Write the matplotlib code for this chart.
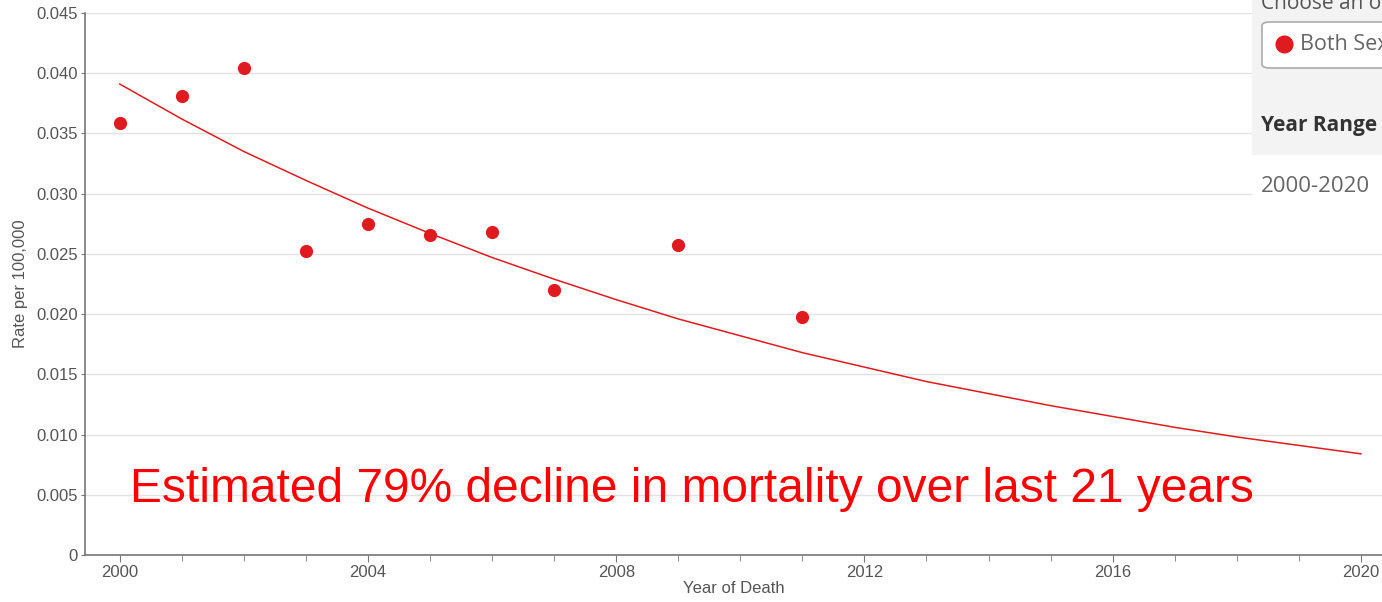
import matplotlib
matplotlib.use("Agg")
import matplotlib.pyplot as plt
from matplotlib.patches import Rectangle, FancyBboxPatch
from matplotlib.lines import Line2D
from matplotlib.ticker import MultipleLocator, FuncFormatter

# ---- data ----
obs_years = [2000, 2001, 2002, 2003, 2004, 2005, 2006, 2007, 2009, 2011]
obs_rates = [0.0359, 0.0381, 0.0404, 0.0252, 0.0275, 0.0266, 0.0268, 0.0220, 0.0257, 0.0198]

trend_years = list(range(2000, 2021))
trend_rates = [0.0391, 0.0362, 0.0335, 0.0311, 0.0288, 0.0267, 0.0247, 0.0229,
               0.0212, 0.0196, 0.0182, 0.0168, 0.0156, 0.0144, 0.0134, 0.0124,
               0.0115, 0.0106, 0.0098, 0.0091, 0.0084]

y_ticks = [0, 0.005, 0.010, 0.015, 0.020, 0.025, 0.030, 0.035, 0.040, 0.045]
x_major = [2000, 2004, 2008, 2012, 2016, 2020]

RED = "#e01b1f"
GRAY = "#555555"
W, H = 1382, 602

plt.rcParams["font.family"] = ["Liberation Sans", "DejaVu Sans"]

fig = plt.figure(figsize=(W / 100, H / 100), dpi=100)
ax = fig.add_axes([85 / W, (H - 555) / H, (W - 85) / W, (555 - 13) / H])

ax.plot(trend_years, trend_rates, color=RED, linewidth=1.1, zorder=3)
ax.plot(obs_years, obs_rates, "o", color=RED, markersize=8.5, zorder=4)

ax.set_xlim(1999.44, 2020.34)
ax.set_ylim(0, 0.045)
ax.set_yticks(y_ticks)
ax.yaxis.set_major_formatter(FuncFormatter(lambda v, p: "0" if v == 0 else f"{v:.3f}"))
ax.set_xticks(x_major)
ax.xaxis.set_minor_locator(MultipleLocator(1))
ax.yaxis.grid(True, color="#e3e3e3", linewidth=1)
ax.set_axisbelow(True)

for s in ["top", "right"]:
    ax.spines[s].set_visible(False)
for s in ["left", "bottom"]:
    ax.spines[s].set_color("#777777")
    ax.spines[s].set_linewidth(1.2)

ax.tick_params(axis="y", length=3, color="#777777", labelcolor=GRAY, labelsize=12, pad=2)
ax.tick_params(axis="x", which="major", length=5, color="#777777", labelcolor=GRAY, labelsize=12, pad=2)
ax.tick_params(axis="x", which="minor", length=4, color="#777777")

ax.set_xlabel("Year of Death", fontsize=12, color=GRAY, labelpad=1)
ax.set_ylabel("Rate per 100,000", fontsize=12, color=GRAY, labelpad=6)

fig.text(130 / W, (H - 489) / H, "Estimated 79% decline in mortality over last 21 years",
         color="#ff0000", fontsize=34.5, va="center", ha="left")

# ---- partial control panel on the right ----
px = lambda x: x / W
py = lambda y: (H - y) / H
fig.patches.append(Rectangle((px(1252), py(200)), px(1382) - px(1252), py(155) - py(200),
                             transform=fig.transFigure, facecolor="white", edgecolor="none", zorder=5))
fig.patches.append(Rectangle((px(1252), py(155)), px(1382) - px(1252), py(0) - py(155),
                             transform=fig.transFigure, facecolor="#f3f3f3", edgecolor="none", zorder=5))
fig.patches.append(FancyBboxPatch((px(1262), py(68)), px(1400) - px(1262), py(22) - py(68),
                                  boxstyle="round,pad=0,rounding_size=0.006",
                                  transform=fig.transFigure, facecolor="white",
                                  edgecolor="#aaaaaa", linewidth=1.2, zorder=6))
fig.lines.append(Line2D([px(1284)], [py(44)], marker="o", markersize=12, color=RED,
                        transform=fig.transFigure, zorder=7))
panel_font = ["Open Sans", "DejaVu Sans"]
fig.text(px(1261), py(4), "Choose an option", fontsize=15, color="#555555",
         family=panel_font, va="center", ha="left", zorder=7)
fig.text(px(1300), py(45), "Both Sexes", fontsize=15.5, color="#666666",
         family=panel_font, va="center", ha="left", zorder=7)
fig.text(px(1261), py(126), "Year Range", fontsize=15, color="#333333", weight="bold",
         family=panel_font, va="center", ha="left", zorder=7)
fig.text(px(1261), py(186), "2000-2020", fontsize=16, color="#666666",
         family=panel_font, va="center", ha="left", zorder=7)

fig.savefig("out.png", dpi=100)
